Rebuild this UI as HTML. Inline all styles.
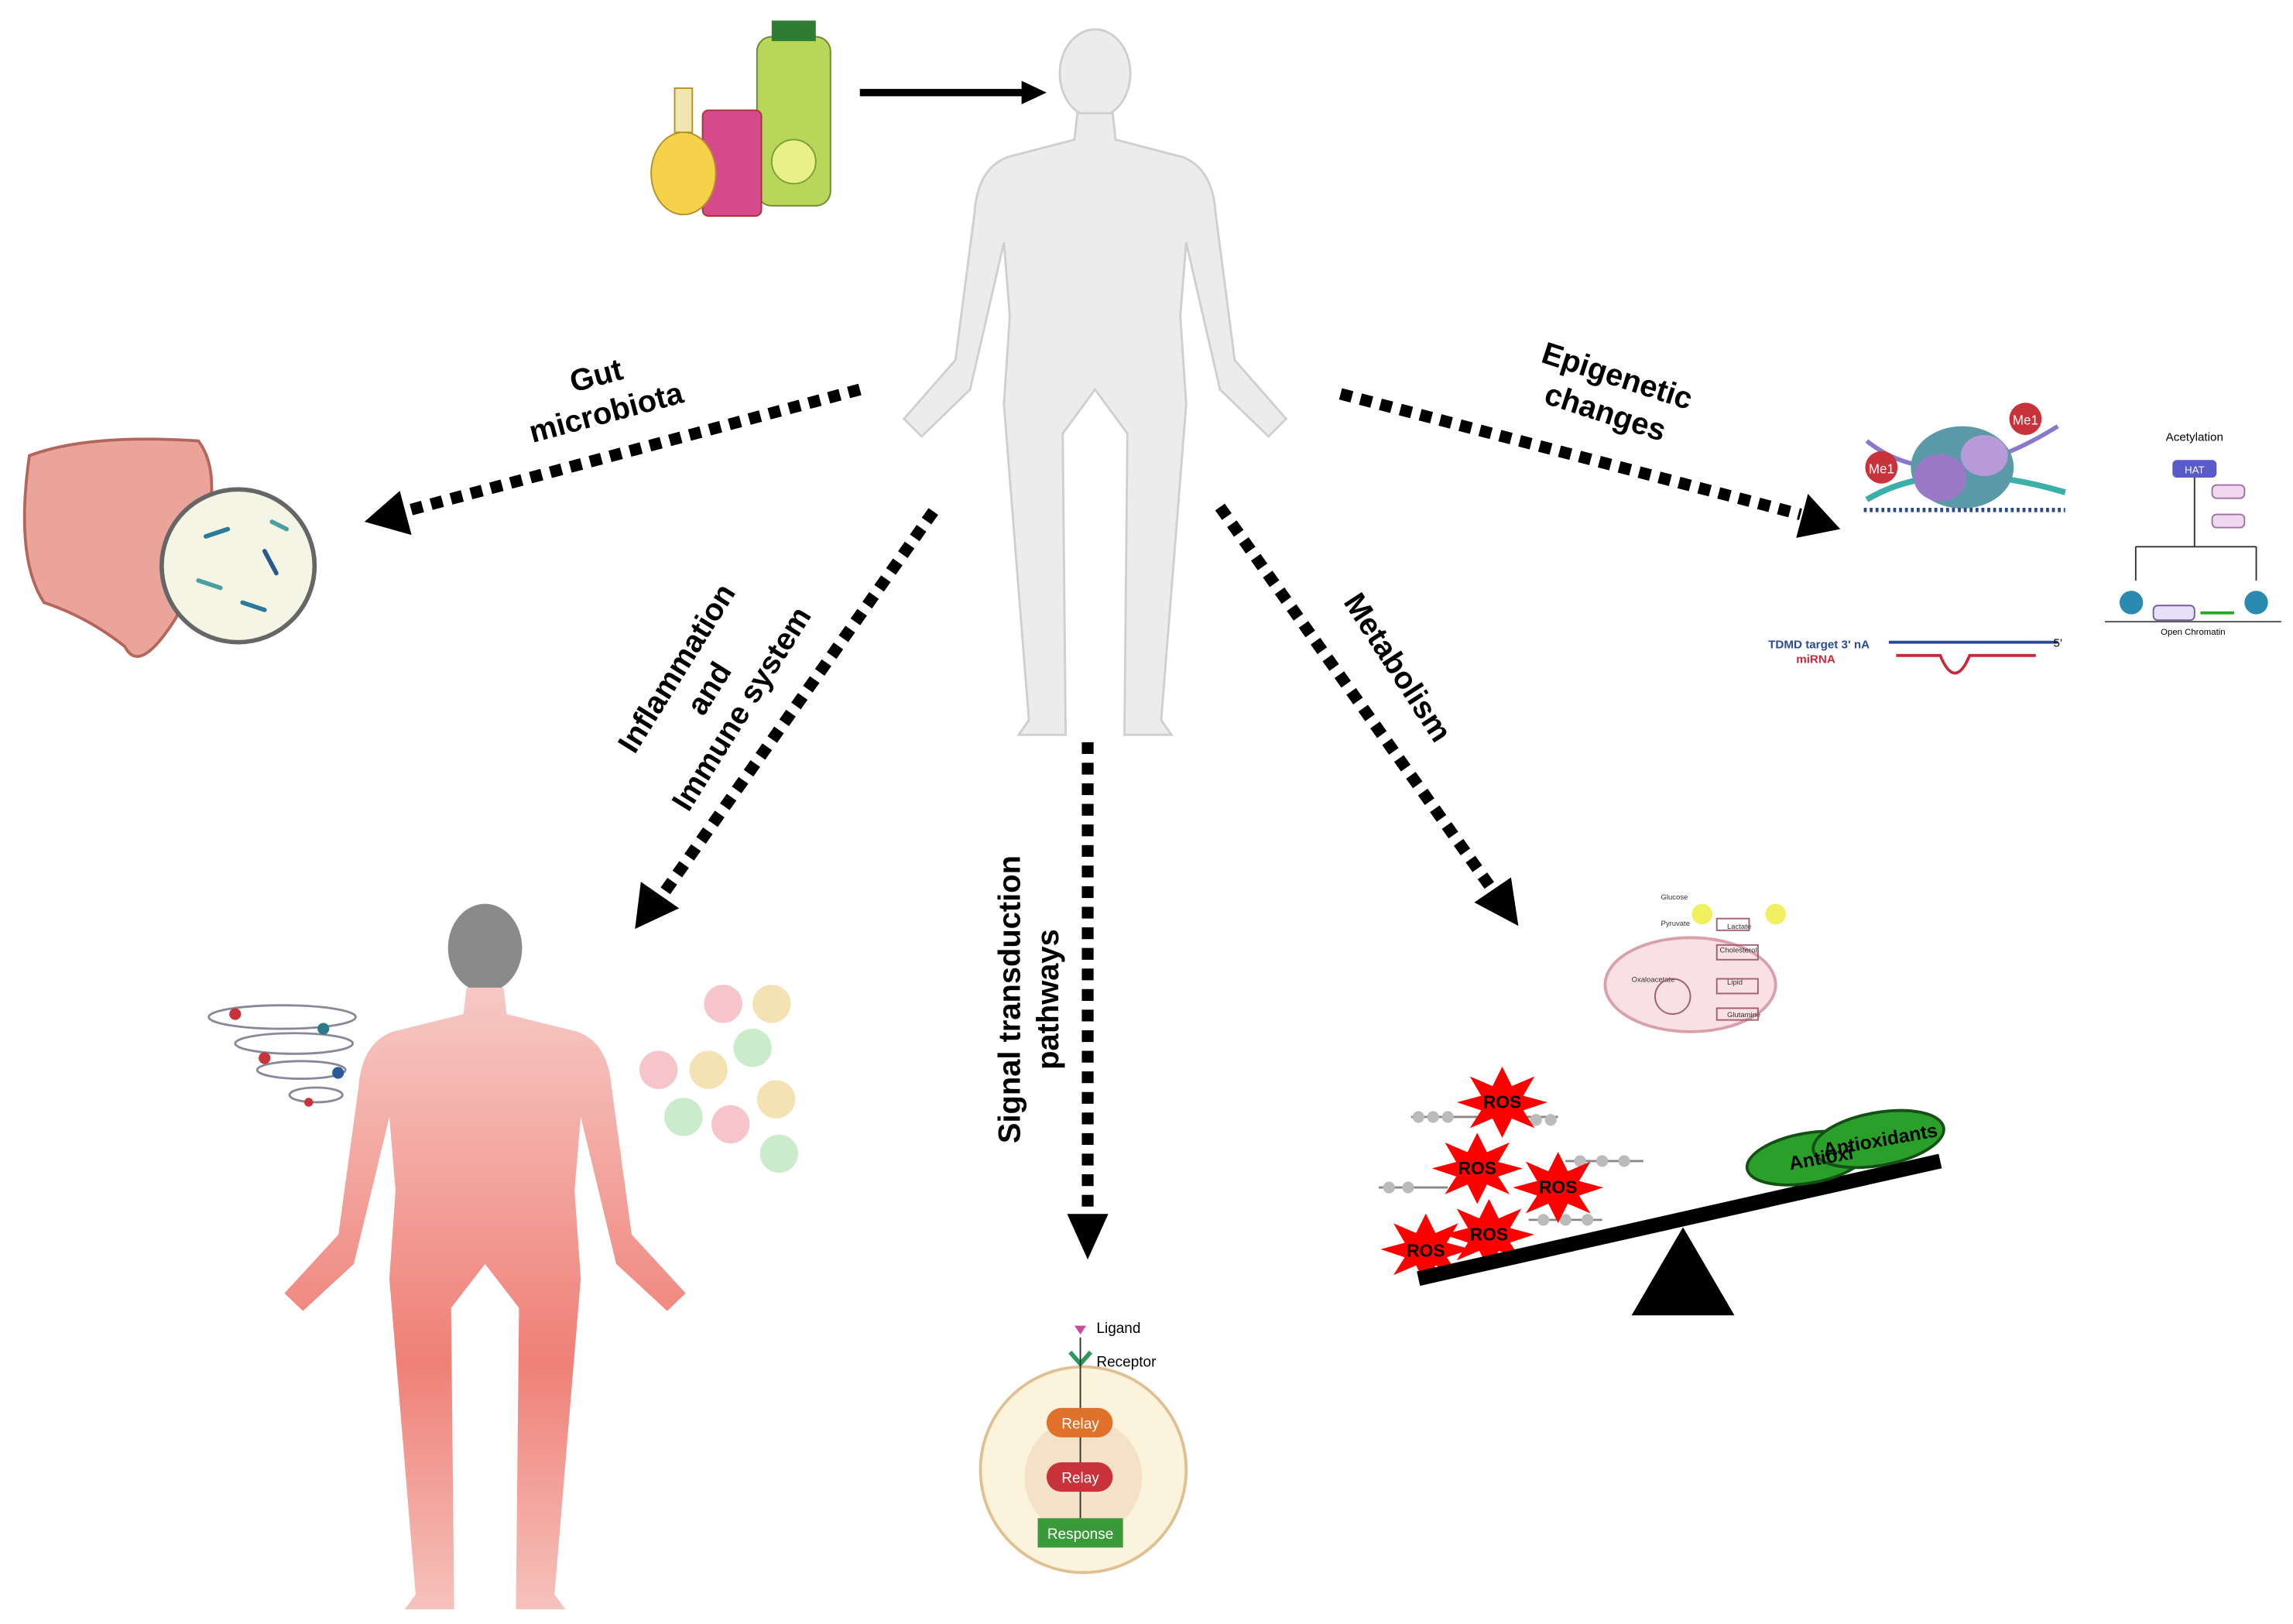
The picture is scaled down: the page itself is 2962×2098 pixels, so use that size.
<!DOCTYPE html>
<html><head><meta charset="utf-8"><style>
html,body{margin:0;padding:0;background:#fff;}
svg{display:block;}
text{font-family:"Liberation Sans",sans-serif;}
</style></head><body>
<svg width="2962" height="2098" viewBox="0 0 1560 1105" preserveAspectRatio="none" xmlns="http://www.w3.org/2000/svg">
<defs>
<linearGradient id="red" x1="0" y1="0" x2="0" y2="1"><stop offset="0" stop-color="#f7c9c4"/><stop offset="0.6" stop-color="#ef8077"/><stop offset="1" stop-color="#f6c2bc"/></linearGradient>
<g id="human">
<ellipse cx="0" cy="-205" rx="24" ry="30"/>
<path d="M-12,-178 L12,-178 L14,-160 L60,-148 Q80,-140 82,-110 L95,-10 L130,30 L118,42 L85,10 L62,-90 L58,-40 L62,20 L45,235 L52,245 L20,245 L22,40 L0,10 L-22,40 L-20,245 L-52,245 L-45,235 L-62,20 L-58,-40 L-62,-90 L-85,10 L-118,42 L-130,30 L-95,-10 L-82,-110 Q-80,-140 -60,-148 L-14,-160 Z"/>
</g>
<marker id="ah" markerWidth="4" markerHeight="4" refX="2" refY="2" orient="auto" markerUnits="strokeWidth"><path d="M0,0 L4,2 L0,4 Z" fill="#000"/></marker>
<path id="star" d="M0,-22 L6,-10 L20,-16 L13,-4 L28,0 L13,5 L20,16 L6,10 L0,22 L-6,10 L-20,16 L-13,5 L-28,0 L-13,-4 L-20,-16 L-6,-10 Z"/>
</defs>

<!-- main human -->
<g transform="translate(745,255)" fill="#ececec" stroke="#cfcfcf" stroke-width="1.5"><use href="#human"/></g>

<!-- drinks -->
<rect x="515" y="25" width="50" height="115" rx="10" fill="#b8d65a" stroke="#6a8a2a"/>
<rect x="525" y="14" width="30" height="14" fill="#2e7d32"/>
<circle cx="540" cy="110" r="15" fill="#e9f08a" stroke="#7aa030"/>
<rect x="478" y="75" width="40" height="72" rx="4" fill="#d44a8a" stroke="#a33"/>
<ellipse cx="465" cy="118" rx="22" ry="28" fill="#f5d24a" stroke="#b8902a"/>
<rect x="459" y="60" width="12" height="30" fill="#f0e6b0" stroke="#b8902a"/>
<!-- top arrow -->
<line x1="585" y1="63" x2="697" y2="63" stroke="#000" stroke-width="5"/>
<path d="M695,55 L712,63 L695,71 Z" fill="#000"/>

<!-- dotted arrows -->
<g stroke="#000" stroke-width="8" stroke-dasharray="8,6" fill="none">
<line x1="585" y1="265" x2="275" y2="348"/>
<line x1="912" y1="268" x2="1225" y2="350"/>
<line x1="635" y1="348" x2="450" y2="610"/>
<line x1="740" y1="505" x2="740" y2="830"/>
<line x1="830" y1="345" x2="1015" y2="605"/>
</g>
<g fill="#000">
<path d="M248,355 L272,334 L280,364 Z"/>
<path d="M1252,360 L1222,366 L1230,336 Z"/>
<path d="M432,632 L436,600 L462,618 Z"/>
<path d="M740,857 L726,826 L754,826 Z"/>
<path d="M1033,630 L1003,614 L1028,597 Z"/>
</g>

<!-- labels -->
<g font-weight="bold" font-size="21" fill="#000" text-anchor="middle">
<text transform="translate(410,272) rotate(-15)"><tspan x="0" y="-10">Gut</tspan><tspan x="0" y="16">microbiota</tspan></text>
<text transform="translate(1095,272) rotate(18)"><tspan x="0" y="-10">Epigenetic</tspan><tspan x="0" y="16">changes</tspan></text>
<text transform="translate(485,470) rotate(-58)"><tspan x="0" y="-22">Inflammation</tspan><tspan x="0" y="4">and</tspan><tspan x="0" y="30">Immune system</tspan></text>
<text transform="translate(700,680) rotate(-90)"><tspan x="0" y="-6">Signal transduction</tspan><tspan x="0" y="20">pathways</tspan></text>
<text transform="translate(945,458) rotate(57)">Metabolism</text>
</g>

<!-- gut -->
<path d="M20,310 Q60,295 135,300 Q150,320 140,360 L120,420 Q95,460 85,440 Q60,420 30,410 Q10,380 20,310 Z" fill="#eaa49a" stroke="#b4665c" stroke-width="2"/>
<circle cx="162" cy="385" r="52" fill="#f5f5e6" stroke="#666" stroke-width="3"/>
<g stroke-width="3" stroke-linecap="round"><line x1="140" y1="365" x2="155" y2="360" stroke="#2a7a9a"/><line x1="180" y1="375" x2="188" y2="390" stroke="#2a5a8a"/><line x1="135" y1="395" x2="150" y2="400" stroke="#4aa0a0"/><line x1="165" y1="410" x2="180" y2="415" stroke="#2a7a9a"/><line x1="185" y1="355" x2="195" y2="360" stroke="#4aa0a0"/></g>

<!-- epigenetic -->
<path d="M1270,300 Q1320,340 1400,290" stroke="#8a78c8" stroke-width="3" fill="none"/>
<path d="M1270,340 Q1320,310 1405,335" stroke="#3ab0a8" stroke-width="4" fill="none"/>
<ellipse cx="1335" cy="318" rx="35" ry="28" fill="#5a9aa8"/>
<ellipse cx="1320" cy="325" rx="18" ry="16" fill="#9a7ac8"/>
<ellipse cx="1350" cy="310" rx="16" ry="14" fill="#b89ad8"/>
<circle cx="1280" cy="318" r="11" fill="#c8323a"/><text x="1280" y="322" font-size="9" fill="#fff" text-anchor="middle">Me1</text>
<circle cx="1378" cy="285" r="11" fill="#c8323a"/><text x="1378" y="289" font-size="9" fill="#fff" text-anchor="middle">Me1</text>
<line x1="1268" y1="347" x2="1405" y2="347" stroke="#2a4a8a" stroke-width="3" stroke-dasharray="2,2"/>
<text x="1493" y="300" font-size="8" text-anchor="middle">Acetylation</text>
<rect x="1478" y="313" width="30" height="12" rx="3" fill="#5a5ac8"/><text x="1493" y="322" font-size="7" fill="#fff" text-anchor="middle">HAT</text>
<rect x="1505" y="330" width="22" height="9" rx="3" fill="#f0d8f0" stroke="#a070a0"/>
<rect x="1505" y="350" width="22" height="9" rx="3" fill="#f0d8f0" stroke="#a070a0"/>
<path d="M1493,325 V372 M1453,372 H1535 M1453,372 V395 M1535,372 V395" stroke="#333" fill="none"/>
<circle cx="1450" cy="410" r="8" fill="#2a8ab0"/><circle cx="1535" cy="410" r="8" fill="#2a8ab0"/>
<rect x="1465" y="412" width="28" height="10" rx="3" fill="#e8e0f8" stroke="#7060a0"/>
<path d="M1497,417 H1520" stroke="#2a2" stroke-width="2"/>
<line x1="1432" y1="423" x2="1552" y2="423" stroke="#555"/>
<text x="1492" y="432" font-size="6" text-anchor="middle">Open Chromatin</text>
<text x="1203" y="441" font-size="8" fill="#2a4a9a" font-weight="bold">TDMD target  3' nA</text>
<text x="1222" y="451" font-size="8" fill="#c82a3a" font-weight="bold">miRNA</text>
<line x1="1285" y1="437" x2="1400" y2="437" stroke="#2a4a9a" stroke-width="2"/>
<path d="M1290,446 H1320 Q1330,470 1340,446 H1385" stroke="#c82a3a" stroke-width="2" fill="none"/>
<text x="1397" y="440" font-size="8">5'</text>

<!-- red human -->
<g transform="translate(330,850)" fill="url(#red)"><g transform="scale(1.05,1.0)"><ellipse cx="0" cy="-205" rx="24" ry="30" fill="#8a8a8a"/></g></g>
<g transform="translate(330,850) scale(1.05,1.0)" fill="url(#red)"><path d="M-12,-178 L12,-178 L14,-160 L60,-148 Q80,-140 82,-110 L95,-10 L130,30 L118,42 L85,10 L62,-90 L58,-40 L62,20 L45,235 L52,245 L20,245 L22,40 L0,10 L-22,40 L-20,245 L-52,245 L-45,235 L-62,20 L-58,-40 L-62,-90 L-85,10 L-118,42 L-130,30 L-95,-10 L-82,-110 Q-80,-140 -60,-148 L-14,-160 Z"/></g>
<g fill="none" stroke="#889" stroke-width="1.5"><ellipse cx="192" cy="692" rx="50" ry="8"/><ellipse cx="200" cy="710" rx="40" ry="7"/><ellipse cx="205" cy="728" rx="30" ry="6"/><ellipse cx="215" cy="745" rx="18" ry="5"/></g>
<g><circle cx="160" cy="690" r="4" fill="#c8323a"/><circle cx="220" cy="700" r="4" fill="#2a7a8a"/><circle cx="180" cy="720" r="4" fill="#c8323a"/><circle cx="230" cy="730" r="4" fill="#2a5a9a"/><circle cx="210" cy="750" r="3" fill="#c8323a"/></g>
<g opacity="0.6"><circle cx="492" cy="683" r="13" fill="#f0a0a8"/><circle cx="525" cy="683" r="13" fill="#f0d080"/><circle cx="448" cy="728" r="13" fill="#f0a0a8"/><circle cx="482" cy="728" r="13" fill="#f0d080"/><circle cx="512" cy="713" r="13" fill="#a8e0a8"/><circle cx="528" cy="748" r="13" fill="#f0d080"/><circle cx="465" cy="760" r="13" fill="#a8e0a8"/><circle cx="497" cy="765" r="13" fill="#f0a0a8"/><circle cx="530" cy="785" r="13" fill="#a8e0a8"/></g>

<!-- signal cell -->
<circle cx="737" cy="1000" r="70" fill="#fbf3dc" stroke="#e0c090" stroke-width="2"/>
<circle cx="737" cy="1005" r="40" fill="#f5e0c8"/>
<path d="M731,902 L739,902 L735,908 Z" fill="#c84a9a"/>
<path d="M728,920 L735,928 L742,920" stroke="#2a9a5a" stroke-width="3" fill="none"/>
<text x="746" y="907" font-size="10">Ligand</text><text x="746" y="930" font-size="10">Receptor</text>
<line x1="735" y1="910" x2="735" y2="1033" stroke="#333"/>
<rect x="712" y="958" width="45" height="20" rx="10" fill="#e0702a"/><text x="735" y="972" font-size="10" fill="#fff" text-anchor="middle">Relay</text>
<rect x="712" y="995" width="45" height="20" rx="10" fill="#c8323a"/><text x="735" y="1009" font-size="10" fill="#fff" text-anchor="middle">Relay</text>
<rect x="706" y="1033" width="58" height="20" fill="#3a9a3a"/><text x="735" y="1047" font-size="10" fill="#fff" text-anchor="middle">Response</text>

<!-- metabolism -->
<ellipse cx="1150" cy="670" rx="58" ry="32" fill="#f8e0e4" stroke="#d8a0a8" stroke-width="2"/>
<g font-size="5" fill="#333"><text x="1130" y="612">Glucose</text><text x="1130" y="630">Pyruvate</text><text x="1110" y="668">Oxaloacetate</text><text x="1175" y="632">Lactate</text><text x="1170" y="648">Cholesterol</text><text x="1175" y="670">Lipid</text><text x="1175" y="692">Glutamine</text></g>
<g fill="none" stroke="#a06070"><rect x="1168" y="625" width="22" height="8"/><rect x="1168" y="643" width="28" height="10"/><rect x="1168" y="666" width="28" height="10"/><rect x="1168" y="686" width="28" height="8"/><circle cx="1138" cy="678" r="12"/></g>
<circle cx="1158" cy="622" r="7" fill="#f0f060"/><circle cx="1208" cy="622" r="7" fill="#f0f060"/>

<!-- ROS / seesaw -->
<g stroke="#888" stroke-width="1.5">
<line x1="960" y1="760" x2="1060" y2="760"/><line x1="1065" y1="790" x2="1118" y2="790"/><line x1="938" y1="808" x2="985" y2="808"/><line x1="1040" y1="830" x2="1090" y2="830"/>
</g>
<g fill="#bbb"><circle cx="965" cy="760" r="4"/><circle cx="975" cy="760" r="4"/><circle cx="985" cy="760" r="4"/><circle cx="1045" cy="762" r="4"/><circle cx="1055" cy="762" r="4"/><circle cx="1075" cy="790" r="4"/><circle cx="1090" cy="790" r="4"/><circle cx="1105" cy="790" r="4"/><circle cx="945" cy="808" r="4"/><circle cx="958" cy="808" r="4"/><circle cx="1050" cy="830" r="4"/><circle cx="1065" cy="830" r="4"/><circle cx="1080" cy="830" r="4"/></g>
<g fill="#f00">
<use href="#star" transform="translate(1022,750) scale(1.1)"/>
<use href="#star" transform="translate(1005,795) scale(1.1)"/>
<use href="#star" transform="translate(1060,808) scale(1.1)"/>
<use href="#star" transform="translate(1013,840) scale(1.1)"/>
<use href="#star" transform="translate(970,850) scale(1.1)"/>
</g>
<g font-size="12" font-weight="bold" text-anchor="middle"><text x="1022" y="754">ROS</text><text x="1005" y="799">ROS</text><text x="1060" y="812">ROS</text><text x="1013" y="844">ROS</text><text x="970" y="855">ROS</text></g>
<line x1="965" y1="870" x2="1320" y2="790" stroke="#000" stroke-width="10"/>
<path d="M1145,835 L1110,895 L1180,895 Z" fill="#000"/>
<ellipse cx="1230" cy="788" rx="42" ry="17" transform="rotate(-10 1230 788)" fill="#2aa02a" stroke="#135013" stroke-width="2"/>
<ellipse cx="1278" cy="775" rx="45" ry="18" transform="rotate(-10 1278 775)" fill="#2aa02a" stroke="#135013" stroke-width="2"/>
<text transform="translate(1218,796) rotate(-10)" font-size="13" font-weight="bold">Antioxi</text>
<text transform="translate(1280,780) rotate(-10)" font-size="13" font-weight="bold" text-anchor="middle">Antioxidants</text>
</svg>
</body></html>
